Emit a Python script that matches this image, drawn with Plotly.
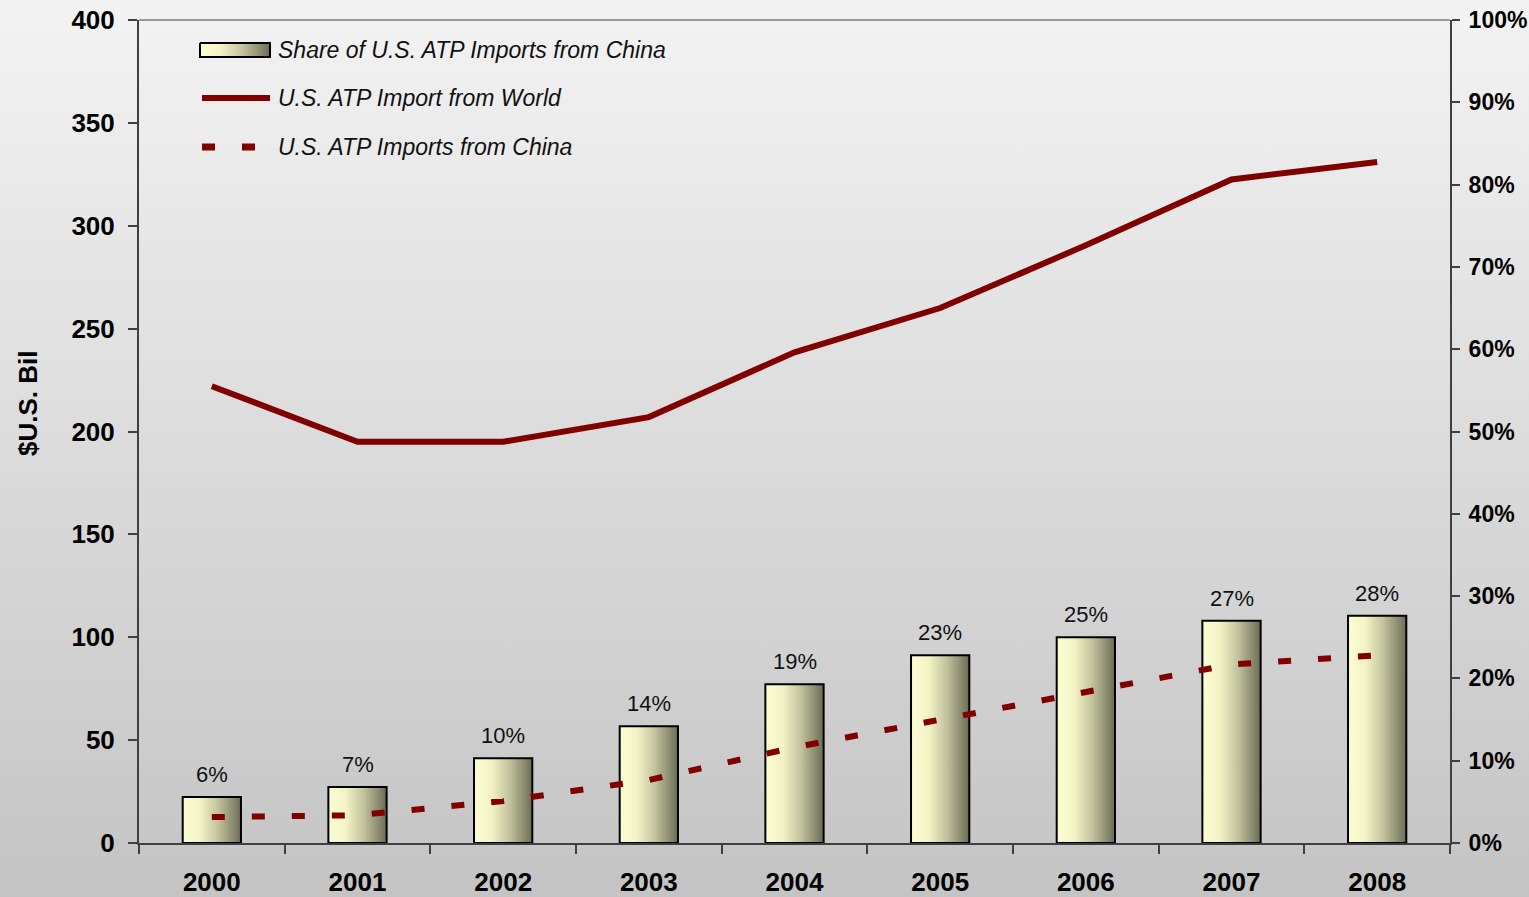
import plotly.graph_objects as go

# ---------------- data ----------------
years = ["2000", "2001", "2002", "2003", "2004", "2005", "2006", "2007", "2008"]
share_china_pct = [5.6, 6.8, 10.3, 14.2, 19.3, 22.8, 25.0, 27.0, 27.6]
share_labels = ["6%", "7%", "10%", "14%", "19%", "23%", "25%", "27%", "28%"]
imports_world_bil = [222.0, 195.0, 195.0, 207.0, 238.5, 260.0, 290.5, 322.5, 331.0]
imports_china_bil = [12.6, 13.5, 20.4, 30.6, 46.5, 59.8, 73.4, 86.8, 91.2]
left_ticks = [0, 50, 100, 150, 200, 250, 300, 350, 400]
series_names = ["Share of U.S. ATP Imports from China",
                "U.S. ATP Import from World",
                "U.S. ATP Imports from China"]
y_title = "$U.S. Bil"

# ---------------- style ----------------
FONT = "Arial, 'Liberation Sans', Helvetica, sans-serif"
MAROON = "#800000"
BAR_W = 0.40
W, H = 1529, 897
PL, PR, PT, PB = 139, 1450, 20, 843  # plot area in pixels
bar_scale = [[0.0, "#fdfdd4"], [0.3, "#f3f3c6"], [0.62, "#c0c09c"], [1.0, "#6c6c56"]]
DASH = "13px,27px"

fig = go.Figure()

# ---- page-level helper subplot (pixel coordinates): background + legend ----
fig.add_trace(go.Scatter(
    x=[0, W, W, 0, 0], y=[H, H, 0, 0, H], xaxis="x", yaxis="y",
    mode="lines", line=dict(width=0), fill="toself",
    fillgradient=dict(type="vertical", colorscale=[[0, "#c4c4c4"], [1, "#f3f3f3"]], start=H, stop=0),
    hoverinfo="skip", showlegend=False,
))

# legend: swatch for bars
LX0, LX1 = 200, 270
rows = [50, 98, 147]
fig.add_trace(go.Scatter(
    x=[LX0, LX1, LX1, LX0, LX0], y=[rows[0] - 7, rows[0] - 7, rows[0] + 7, rows[0] + 7, rows[0] - 7],
    xaxis="x", yaxis="y", mode="lines", fill="toself", line=dict(color="#000000", width=2),
    fillgradient=dict(type="horizontal", colorscale=bar_scale, start=LX0, stop=LX1),
    hoverinfo="skip", showlegend=False,
))
fig.add_trace(go.Scatter(
    x=[LX0 + 2, LX1], y=[rows[1], rows[1]], xaxis="x", yaxis="y", mode="lines",
    line=dict(color=MAROON, width=6), hoverinfo="skip", showlegend=False,
))
fig.add_trace(go.Scatter(
    x=[LX0 + 2, LX0 + 56], y=[rows[2], rows[2]], xaxis="x", yaxis="y", mode="lines",
    line=dict(color=MAROON, width=7, dash=DASH), hoverinfo="skip", showlegend=False,
))
for r, name in zip(rows, series_names):
    fig.add_annotation(x=276, y=r, xref="x", yref="y", text=name, showarrow=False,
                       xanchor="left", yanchor="middle",
                       font=dict(family=FONT, size=23, color="#111111", style="italic"))

# left axis title
fig.add_annotation(x=28, y=404, xref="x", yref="y", text=y_title, showarrow=False,
                   textangle=-90, xanchor="center", yanchor="middle",
                   font=dict(family=FONT, size=26, color="#000000", weight="bold"))

# ---- bars (share, right axis) drawn as gradient-filled rectangles ----
xs = list(range(len(years)))
for i, v in enumerate(share_china_pct):
    x0, x1 = xs[i] - BAR_W / 2, xs[i] + BAR_W / 2
    fig.add_trace(go.Scatter(
        x=[x0, x1, x1, x0, x0], y=[0, 0, v / 100, v / 100, 0],
        xaxis="x2", yaxis="y2", mode="lines", fill="toself",
        line=dict(color="#000000", width=2),
        fillgradient=dict(type="horizontal", colorscale=bar_scale, start=x0, stop=x1),
        name=series_names[0], legendgroup="share", showlegend=False,
        hovertemplate=years[i] + ": " + share_labels[i] + "<extra></extra>",
    ))

# ---- lines (left axis, overlaying so drawn above bars) ----
fig.add_trace(go.Scatter(
    x=xs, y=imports_world_bil, xaxis="x2", yaxis="y3", mode="lines",
    line=dict(color=MAROON, width=6), name=series_names[1], showlegend=False,
))
fig.add_trace(go.Scatter(
    x=xs, y=imports_china_bil, xaxis="x2", yaxis="y3", mode="lines",
    line=dict(color=MAROON, width=6, dash=DASH), name=series_names[2], showlegend=False,
))

# value labels above bars
for i, v in enumerate(share_china_pct):
    fig.add_annotation(x=xs[i], y=v / 100, xref="x2", yref="y2", text=share_labels[i],
                       showarrow=False, yanchor="bottom", yshift=8,
                       font=dict(family=FONT, size=22, color="#111111"))

# light top border of plot area
fig.add_shape(type="line", xref="x2 domain", yref="y2 domain", x0=0, x1=1, y0=1, y1=1,
              line=dict(color="#9a9a9a", width=2))

dom_x = [PL / W, PR / W]
dom_y = [1 - PB / H, 1 - PT / H]

fig.update_layout(
    width=W, height=H,
    margin=dict(l=0, r=0, t=0, b=0, autoexpand=False),
    paper_bgcolor="#dcdcdc", plot_bgcolor="rgba(0,0,0,0)",
    font=dict(family=FONT, color="#000000"),
    showlegend=False,
    xaxis=dict(domain=[0, 1], range=[0, W], visible=False, fixedrange=True, automargin=False),
    yaxis=dict(domain=[0, 1], range=[H, 0], visible=False, fixedrange=True, automargin=False),
    xaxis2=dict(
        domain=dom_x, anchor="y2", range=[-0.5, len(years) - 0.5], automargin=False,
        tickvals=xs, ticktext=years, ticks="", showgrid=False, zeroline=False,
        showline=True, linecolor="#404040", linewidth=2,
        tickfont=dict(family=FONT, size=26, color="#000000", weight="bold"),
        ticklabelstandoff=15,
        minor=dict(tickvals=[k - 0.5 for k in range(len(years) + 1)], ticks="outside",
                   ticklen=9, tickwidth=1.5, tickcolor="#404040", showgrid=False),
    ),
    yaxis2=dict(
        domain=dom_y, anchor="x2", side="right", range=[0, 1], automargin=False,
        dtick=0.1, tickformat=".0%", ticks="outside", ticklen=8, tickwidth=1.5,
        tickcolor="#404040", showline=True, linecolor="#404040", linewidth=2,
        showgrid=False, zeroline=False,
        tickfont=dict(family=FONT, size=23, color="#000000", weight="bold"),
        ticklabelstandoff=4,
    ),
    yaxis3=dict(
        domain=dom_y, anchor="x2", overlaying="y2", side="left", range=[0, 400],
        tickvals=left_ticks, automargin=False,
        ticks="outside", ticklen=9, tickwidth=1.5, tickcolor="#404040",
        showline=True, linecolor="#404040", linewidth=2, showgrid=False, zeroline=False,
        tickfont=dict(family=FONT, size=26, color="#000000", weight="bold"),
        ticklabelstandoff=8,
    ),
)

fig.write_html("out.html", config={"displayModeBar": False},
               post_script="document.body.style.margin='0';")
